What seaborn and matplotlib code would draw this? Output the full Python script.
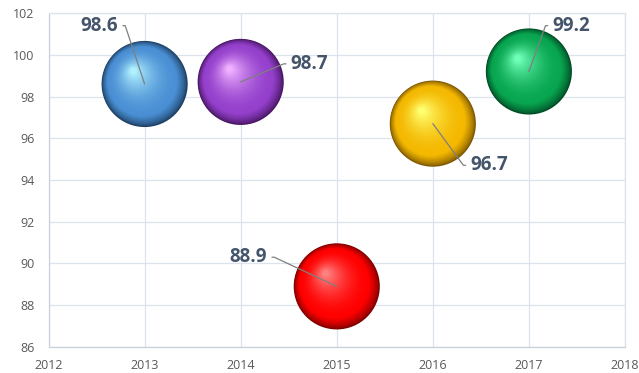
import numpy as np
import pandas as pd
import matplotlib
matplotlib.use("Agg")
import matplotlib.pyplot as plt
import seaborn as sns
from matplotlib.transforms import ScaledTranslation
from matplotlib.colors import to_rgb

# ---- data ----
years = [2013, 2014, 2015, 2016, 2017]
values = [98.6, 98.7, 88.9, 96.7, 99.2]
labels = ["98.6", "98.7", "88.9", "96.7", "99.2"]
x_ticks = [2012, 2013, 2014, 2015, 2016, 2017, 2018]
y_ticks = [86, 88, 90, 92, 94, 96, 98, 100, 102]

# ---- style ----
base_colors = ["#4a8fd4", "#9440cc", "#ff0000", "#f4b800", "#08a650"]
dark_colors = ["#1c3d60", "#461560", "#7a0000", "#7a5500", "#004a24"]
light_colors = ["#b0f0ff", "#eeb0ff", "#ff8080", "#ffff70", "#70ffb8"]
label_offsets = [(-19, 42, "right"), (36, 13, "left"), (-50, 21, "right"),
                 (27, -30, "left"), (17, 33, "left")]

sns.set_style("white")
plt.rcParams["font.family"] = ["Open Sans", "DejaVu Sans"]

fig = plt.figure(figsize=(6.39, 3.73), dpi=100)
ax = fig.add_axes([0.076, 0.070, 0.902, 0.895])

df = pd.DataFrame({"year": years, "value": values})
df["key"] = [str(y) for y in years]

R_pt = 31.0  # sphere radius in points
hx, hy = -0.26, 0.30  # highlight direction (fraction of radius)
n_layers = 50


def mix(c1, c2, t):
    a, b = np.array(to_rgb(c1)), np.array(to_rgb(c2))
    return tuple(a + (b - a) * t)


for i in range(n_layers):
    t = i / (n_layers - 1)
    r = R_pt * (1 - 0.93 * t)
    dx = hx * R_pt * t
    dy = hy * R_pt * t
    pal = {}
    for k, key in enumerate(df["key"]):
        if t < 0.2:
            c = mix(dark_colors[k], base_colors[k], (t / 0.2) ** 0.7)
        else:
            c = mix(base_colors[k], light_colors[k], ((t - 0.2) / 0.8) ** 1.8)
        pal[key] = c
    tr = ax.transData + ScaledTranslation(dx / 72, dy / 72, fig.dpi_scale_trans)
    sns.scatterplot(data=df, x="year", y="value", hue="key", palette=pal,
                    s=(2 * r) ** 2, linewidth=0, legend=False, ax=ax,
                    transform=tr, zorder=3 + i * 0.01)

for k in range(len(years)):
    ox, oy, ha = label_offsets[k]
    sgn = 1 if ha == "right" else -1
    ang_b = np.degrees(np.arctan2(oy, ox + sgn * 5))
    ax.annotate(labels[k], xy=(years[k], values[k]), xytext=(ox, oy),
                textcoords="offset points", ha=ha, va="center",
                fontsize=13.5, fontweight="bold", color="#44546a",
                zorder=10,
                arrowprops=dict(arrowstyle="-", color="#7f7f7f", lw=0.9,
                                shrinkA=1, shrinkB=0,
                                connectionstyle=f"angle,angleA=0,angleB={ang_b:.2f},rad=0"))

ax.set_xlim(2012, 2018)
ax.set_ylim(86, 102)
ax.set_xticks(x_ticks)
ax.set_yticks(y_ticks)
ax.set_xticklabels([str(v) for v in x_ticks])
ax.set_yticklabels([str(v) for v in y_ticks])
ax.grid(True, color="#dde3ec", linewidth=0.9, zorder=0)
ax.set_axisbelow(True)
for s in ax.spines.values():
    s.set_color("#dde3ec")
    s.set_linewidth(0.9)
ax.spines["left"].set_color("#c8d0dc")
ax.spines["bottom"].set_color("#c8d0dc")
ax.tick_params(axis="both", length=0, labelsize=9, labelcolor="#595959")
ax.tick_params(axis="y", pad=10)
ax.tick_params(axis="x", pad=9)
ax.set_xlabel("")
ax.set_ylabel("")

fig.savefig("out.png", dpi=100)
